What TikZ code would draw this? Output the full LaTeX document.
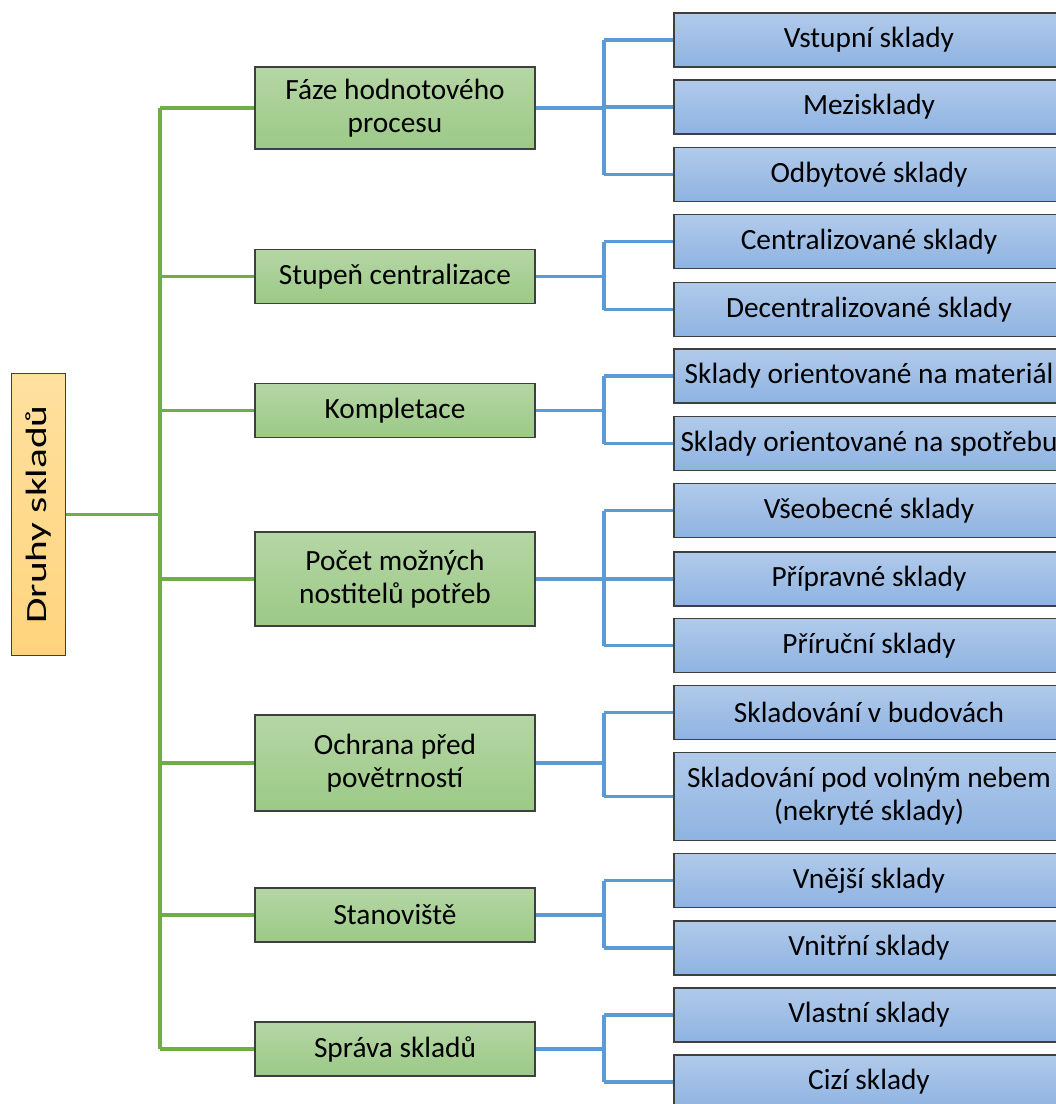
\documentclass[tikz,border=0pt]{standalone}
\usepackage{fontspec}
\setmainfont{Carlito}
\definecolor{green1}{HTML}{B5D6A5}
\definecolor{green2}{HTML}{9CC987}
\definecolor{blue1}{HTML}{B1CAEA}
\definecolor{blue2}{HTML}{8EB3E2}
\definecolor{orange1}{HTML}{FFE09E}
\definecolor{orange2}{HTML}{FFD47E}
\definecolor{lgreen}{HTML}{70AD47}
\definecolor{lblue}{HTML}{5B9BD5}
\definecolor{edge}{HTML}{3F3F3F}
\begin{document}
\begin{tikzpicture}[x=0.75pt,y=-0.75pt,
  box/.style={draw=edge, line width=0.9pt, inner sep=1pt, align=center,
    font=\fontsize{22}{25}\selectfont, anchor=center},
  gbox/.style={box, top color=green1, bottom color=green2, minimum width=210pt},
  bbox/.style={box, top color=blue1, bottom color=blue2, minimum width=292.5pt, minimum height=40.5pt},
  rbox/.style={box, top color=orange1, bottom color=orange2, minimum width=212pt, minimum height=40pt},
  gline/.style={draw=lgreen, line width=2.4pt},
  bline/.style={draw=lblue, line width=2.4pt}]
\useasboundingbox (0,0) rectangle (1056,1104);
\clip (0,0) rectangle (1056,1104);

% root
\node[rbox, rotate=90] (root) at (38.5,514.5) {\scalebox{1.41}[1]{Druhy skladů}};

% green level
\node[gbox, minimum height=61.5pt] (g1) at (395,108) {Fáze hodnotového\\procesu};
\node[gbox, minimum height=40pt] (g2) at (395,276.5) {Stupeň centralizace};
\node[gbox, minimum height=41pt] (g3) at (395,410.5) {Kompletace};
\node[gbox, minimum height=70.5pt] (g4) at (395,579) {Počet možných\\nostitelů potřeb};
\node[gbox, minimum height=72pt] (g5) at (395,763) {Ochrana před\\povětrností};
\node[gbox, minimum height=40.5pt] (g6) at (395,915) {Stanoviště};
\node[gbox, minimum height=40.5pt] (g7) at (395,1049) {Správa skladů};

% blue level
\node[bbox] (b1) at (869,40) {Vstupní sklady};
\node[bbox] (b2) at (869,107) {Mezisklady};
\node[bbox] (b3) at (869,174.5) {Odbytové sklady};
\node[bbox] (b4) at (869,241.5) {Centralizované sklady};
\node[bbox] (b5) at (869,309.5) {Decentralizované sklady};
\node[bbox] (b6) at (869,376) {Sklady orientované na materiál};
\node[bbox] (b7) at (869,443.5) {Sklady orientované na spotřebu};
\node[bbox] (b8) at (869,510.5) {Všeobecné sklady};
\node[bbox] (b9) at (869,579) {Přípravné sklady};
\node[bbox] (b10) at (869,645.5) {Příruční sklady};
\node[bbox] (b11) at (869,712.5) {Skladování v budovách};
\node[bbox, minimum height=66pt] (b12) at (869,796.5) {Skladování pod volným nebem\\(nekryté sklady)};
\node[bbox] (b13) at (869,880.5) {Vnější sklady};
\node[bbox] (b14) at (869,948) {Vnitřní sklady};
\node[bbox] (b15) at (869,1015) {Vlastní sklady};
\node[bbox] (b16) at (869,1082) {Cizí sklady};

% trunk
\coordinate (tx) at (160,0);
\coordinate (bx) at (604,0);
\draw[gline] (root.south) -- (root.south -| tx);
\draw[gline] (g1.west -| tx) -- (g7.west -| tx);
\foreach \g in {g1,g2,g3,g4,g5,g6,g7}
  \draw[gline] (\g.west -| tx) -- (\g.west);

% blue connectors
\foreach \g/\first/\last/\kids in {
   g1/b1/b3/{b1,b2,b3},
   g2/b4/b5/{b4,b5},
   g3/b6/b7/{b6,b7},
   g4/b8/b10/{b8,b9,b10},
   g5/b11/b12/{b11,b12},
   g6/b13/b14/{b13,b14},
   g7/b15/b16/{b15,b16}}{
  \draw[bline] (\g.east) -- (\g.east -| bx);
  \draw[bline] (\first.west -| bx) -- (\last.west -| bx);
  \foreach \k in \kids
    \draw[bline] (\k.west -| bx) -- (\k.west);
}
\end{tikzpicture}
\end{document}
